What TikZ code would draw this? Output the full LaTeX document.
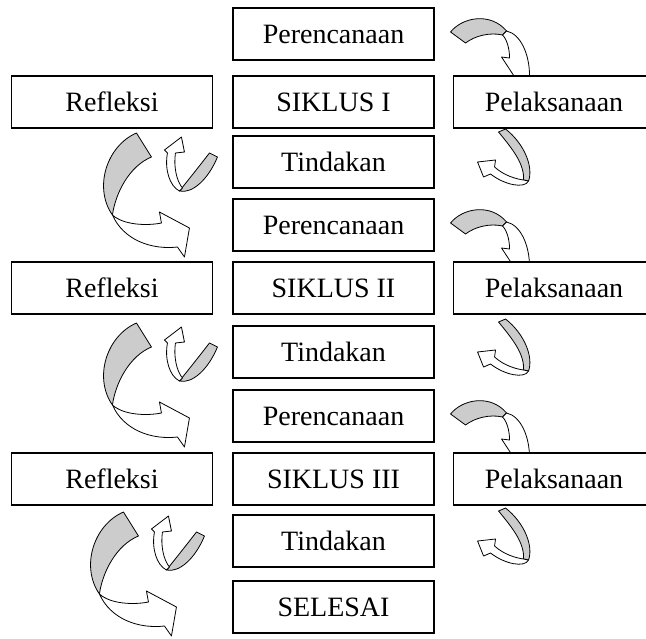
\documentclass[tikz,border=0pt]{standalone}
\usepackage{fontspec}
\setmainfont{Liberation Serif}
\usepackage{tikz}
\usetikzlibrary{backgrounds}

\begin{document}
\begin{tikzpicture}[x=1pt,y=-1pt,
box/.style={draw,line width=1.1pt,fill=white,minimum width=201pt,minimum height=52pt,inner sep=0pt,font=\fontsize{28}{30}\selectfont},
band/.style={draw,line width=0.8pt,line join=round},
back/.style={band,fill=black!20},
front/.style={band,fill=white}
]
\useasboundingbox (0,0) rectangle (646,638);

% The boxes
\node[box] (ren1) at (333.5,34) {Perencanaan};
\node[box] (sik1) at (333.5,102) {SIKLUS I};
\node[box] (ref1) at (112,102) {Refleksi};
\node[box] (pel1) at (554,102) {Pelaksanaan};
\node[box] (tin1) at (333.5,162) {Tindakan};

\node[box] (ren2) at (333.5,225) {Perencanaan};
\node[box] (sik2) at (333.5,288) {SIKLUS II};
\node[box] (ref2) at (112,288) {Refleksi};
\node[box] (pel2) at (554,288) {Pelaksanaan};
\node[box] (tin2) at (333.5,352) {Tindakan};

\node[box] (ren3) at (333.5,416) {Perencanaan};
\node[box] (sik3) at (333.5,479) {SIKLUS III};
\node[box] (ref3) at (112,479) {Refleksi};
\node[box] (pel3) at (554,479) {Pelaksanaan};
\node[box] (tin3) at (333.5,541) {Tindakan};

\node[box] (sel) at (333.5,607) {SELESAI};

% The curved arrows
\begin{scope}[on background layer]
\fill[white] (0,0) rectangle (646,638);
\foreach \i/\dx in {1/0,2/0,3/-13}{
  % Perencanaan to Pelaksanaan
  \begin{scope}[shift={(ren\i.east)}]
    \path[back] (16,-2) .. controls (28,-17) and (56,-22) .. (72,-3) -- (68,1)
      .. controls (55,-2) and (40,2) .. (31,9) -- cycle;
    \path[front] (72,-3) .. controls (86,0) and (95,20) .. (95,42) -- (86,52) -- (67,23) -- (75,24)
      .. controls (75,14) and (72,5) .. (68,1) -- cycle;
  \end{scope}
  % Pelaksanaan to Tindakan
  \begin{scope}[shift={(tin\i.east)}]
    \path[back] (64,-30) .. controls (78,-13) and (90,2) .. (89,18) -- (94,19)
      .. controls (99,5) and (90,-18) .. (71,-33) -- cycle;
    \path[front] (94,19) .. controls (90,27) and (70,23) .. (56,12) -- (49,15) -- (43,0) -- (61,-2) -- (60,5)
      .. controls (70,14) and (82,17) .. (89,18) -- cycle;
  \end{scope}
  % Tindakan to Refleksi
  \begin{scope}[shift={(tin\i.west)},xshift=\dx]
    \path[back] (-23,-9) .. controls (-33,4) and (-45,19) .. (-53,29)
      .. controls (-40,32) and (-24,17) .. (-15,-5) -- cycle;
    \path[front] (-53,29) .. controls (-63,24) and (-68,7) .. (-65,-9) -- (-68,-12) -- (-51,-25) -- (-48,-10) -- (-57,-9)
      .. controls (-59,4) and (-56,19) .. (-50,26) -- cycle;
  \end{scope}
  % Refleksi to the next step
  \begin{scope}[shift={(tin\i.west)},xshift=\dx]
    \path[back] (-96,-29) .. controls (-126,-16) and (-139,26) .. (-120,53)
      .. controls (-117,31) and (-103,4) .. (-81,-5) -- cycle;
    \path[front] (-120,53) .. controls (-109,63) and (-86,64) .. (-71,61) -- (-73,50) -- (-43,66) -- (-48,95) -- (-55,85)
      .. controls (-81,88) and (-109,78) .. (-120,53) -- cycle;
  \end{scope}
}
\end{scope}
\end{tikzpicture}
\end{document}
